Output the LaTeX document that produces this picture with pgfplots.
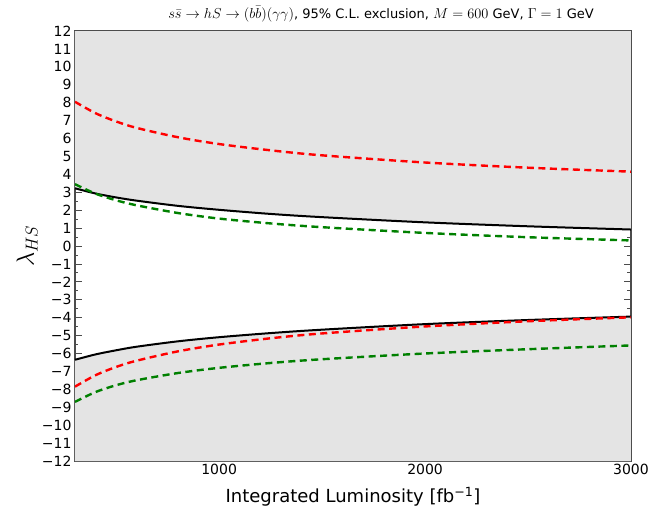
\documentclass[border=0pt]{standalone}
\usepackage{pgfplots}
\pgfplotsset{compat=1.18}
\usepackage{fontspec}
\setmainfont{DejaVu Sans}
\definecolor{shade}{RGB}{228,228,228}
\definecolor{mplgreen}{RGB}{0,128,0}
\newcommand{\titlemath}[1]{{\fontsize{15.5}{17}\selectfont$#1$}}
\begin{document}
\begin{tikzpicture}
\useasboundingbox (-75pt,-54pt) rectangle (574pt,461pt);
\begin{axis}[
  scale only axis,
  width=556pt, height=430pt,
  xmin=300, xmax=3000, ymin=-12, ymax=12,
  xtick={1000,2000,3000}, minor x tick num=9,
  ytick={-12,-11,...,12}, minor y tick num=1,
  yticklabels={−12,−11,−10,−9,−8,−7,−6,−5,−4,−3,−2,−1,0,1,2,3,4,5,6,7,8,9,10,11,12},
  tick align=inside,
  major tick length=7pt, minor tick length=3.5pt,
  tick style={black!70, line width=0.8pt},
  axis line style={black!70, line width=1.3pt},
  ticklabel style={font=\fontsize{14}{16}\selectfont},
  /pgf/number format/assume math mode=true,
  /pgf/number format/set thousands separator={},
  xlabel={Integrated Luminosity [fb\textsuperscript{−1}]},
  xlabel style={font=\fontsize{18}{21}\selectfont, at={(axis description cs:0.5,0)}, anchor=center, yshift=-36pt},
  ylabel={\fontsize{25}{30}\selectfont$\lambda_{HS}$},
  ylabel style={at={(axis description cs:-0.086,0.5)}, anchor=center, inner sep=0pt},
  title={\titlemath{s\bar{s}\to hS\to(b\bar{b})(\gamma\gamma)}, 95\% C.L. exclusion, \titlemath{M=600} GeV, \titlemath{\Gamma=1} GeV},
  title style={font=\fontsize{13}{15}\selectfont, at={(axis description cs:0.5,1)}, anchor=base, yshift=7pt, xshift=28pt, inner sep=0pt},
]
% excluded regions (outside the black curves)
\addplot[fill=shade, draw=none] coordinates {
  (300,3.22) (400,2.93) (500,2.71) (600,2.53) (800,2.24) (1000,2.02)
  (1250,1.79) (1500,1.61) (2000,1.32) (2500,1.10) (3000,0.92)
  (3000,12) (300,12)} -- cycle;
\addplot[fill=shade, draw=none] coordinates {
  (300,-6.35) (400,-6.05) (500,-5.82) (600,-5.62) (800,-5.32) (1000,-5.09)
  (1250,-4.86) (1500,-4.67) (2000,-4.36) (2500,-4.13) (3000,-3.94)
  (3000,-12) (300,-12)} -- cycle;

% black: combined bound
\addplot[black, line width=2pt, smooth] coordinates {
  (300,3.22) (400,2.93) (500,2.71) (600,2.53) (800,2.24) (1000,2.02)
  (1250,1.79) (1500,1.61) (2000,1.32) (2500,1.10) (3000,0.92)};
\addplot[black, line width=2pt, smooth] coordinates {
  (300,-6.35) (400,-6.05) (500,-5.82) (600,-5.62) (800,-5.32) (1000,-5.09)
  (1250,-4.86) (1500,-4.67) (2000,-4.36) (2500,-4.13) (3000,-3.94)};

% red dashed
\addplot[red, line width=2.4pt, smooth, dash pattern=on 7pt off 4.5pt] coordinates {
  (300,8.05) (400,7.41) (500,6.95) (600,6.59) (800,6.07) (1000,5.69)
  (1250,5.34) (1500,5.06) (2000,4.66) (2500,4.37) (3000,4.15)};
\addplot[red, line width=2.4pt, smooth, dash pattern=on 7pt off 4.5pt] coordinates {
  (300,-7.85) (400,-7.21) (500,-6.75) (600,-6.40) (800,-5.88) (1000,-5.50)
  (1250,-5.15) (1500,-4.88) (2000,-4.49) (2500,-4.20) (3000,-3.98)};

% green dashed
\addplot[mplgreen, line width=2.4pt, smooth, dash pattern=on 7pt off 4.5pt] coordinates {
  (300,3.45) (400,2.92) (500,2.55) (600,2.27) (800,1.84) (1000,1.53)
  (1250,1.26) (1500,1.05) (2000,0.73) (2500,0.49) (3000,0.31)};
\addplot[mplgreen, line width=2.4pt, smooth, dash pattern=on 7pt off 4.5pt] coordinates {
  (300,-8.70) (400,-8.15) (500,-7.77) (600,-7.49) (800,-7.09) (1000,-6.80)
  (1250,-6.53) (1500,-6.32) (2000,-6.00) (2500,-5.76) (3000,-5.55)};
\end{axis}
\end{tikzpicture}
\end{document}
